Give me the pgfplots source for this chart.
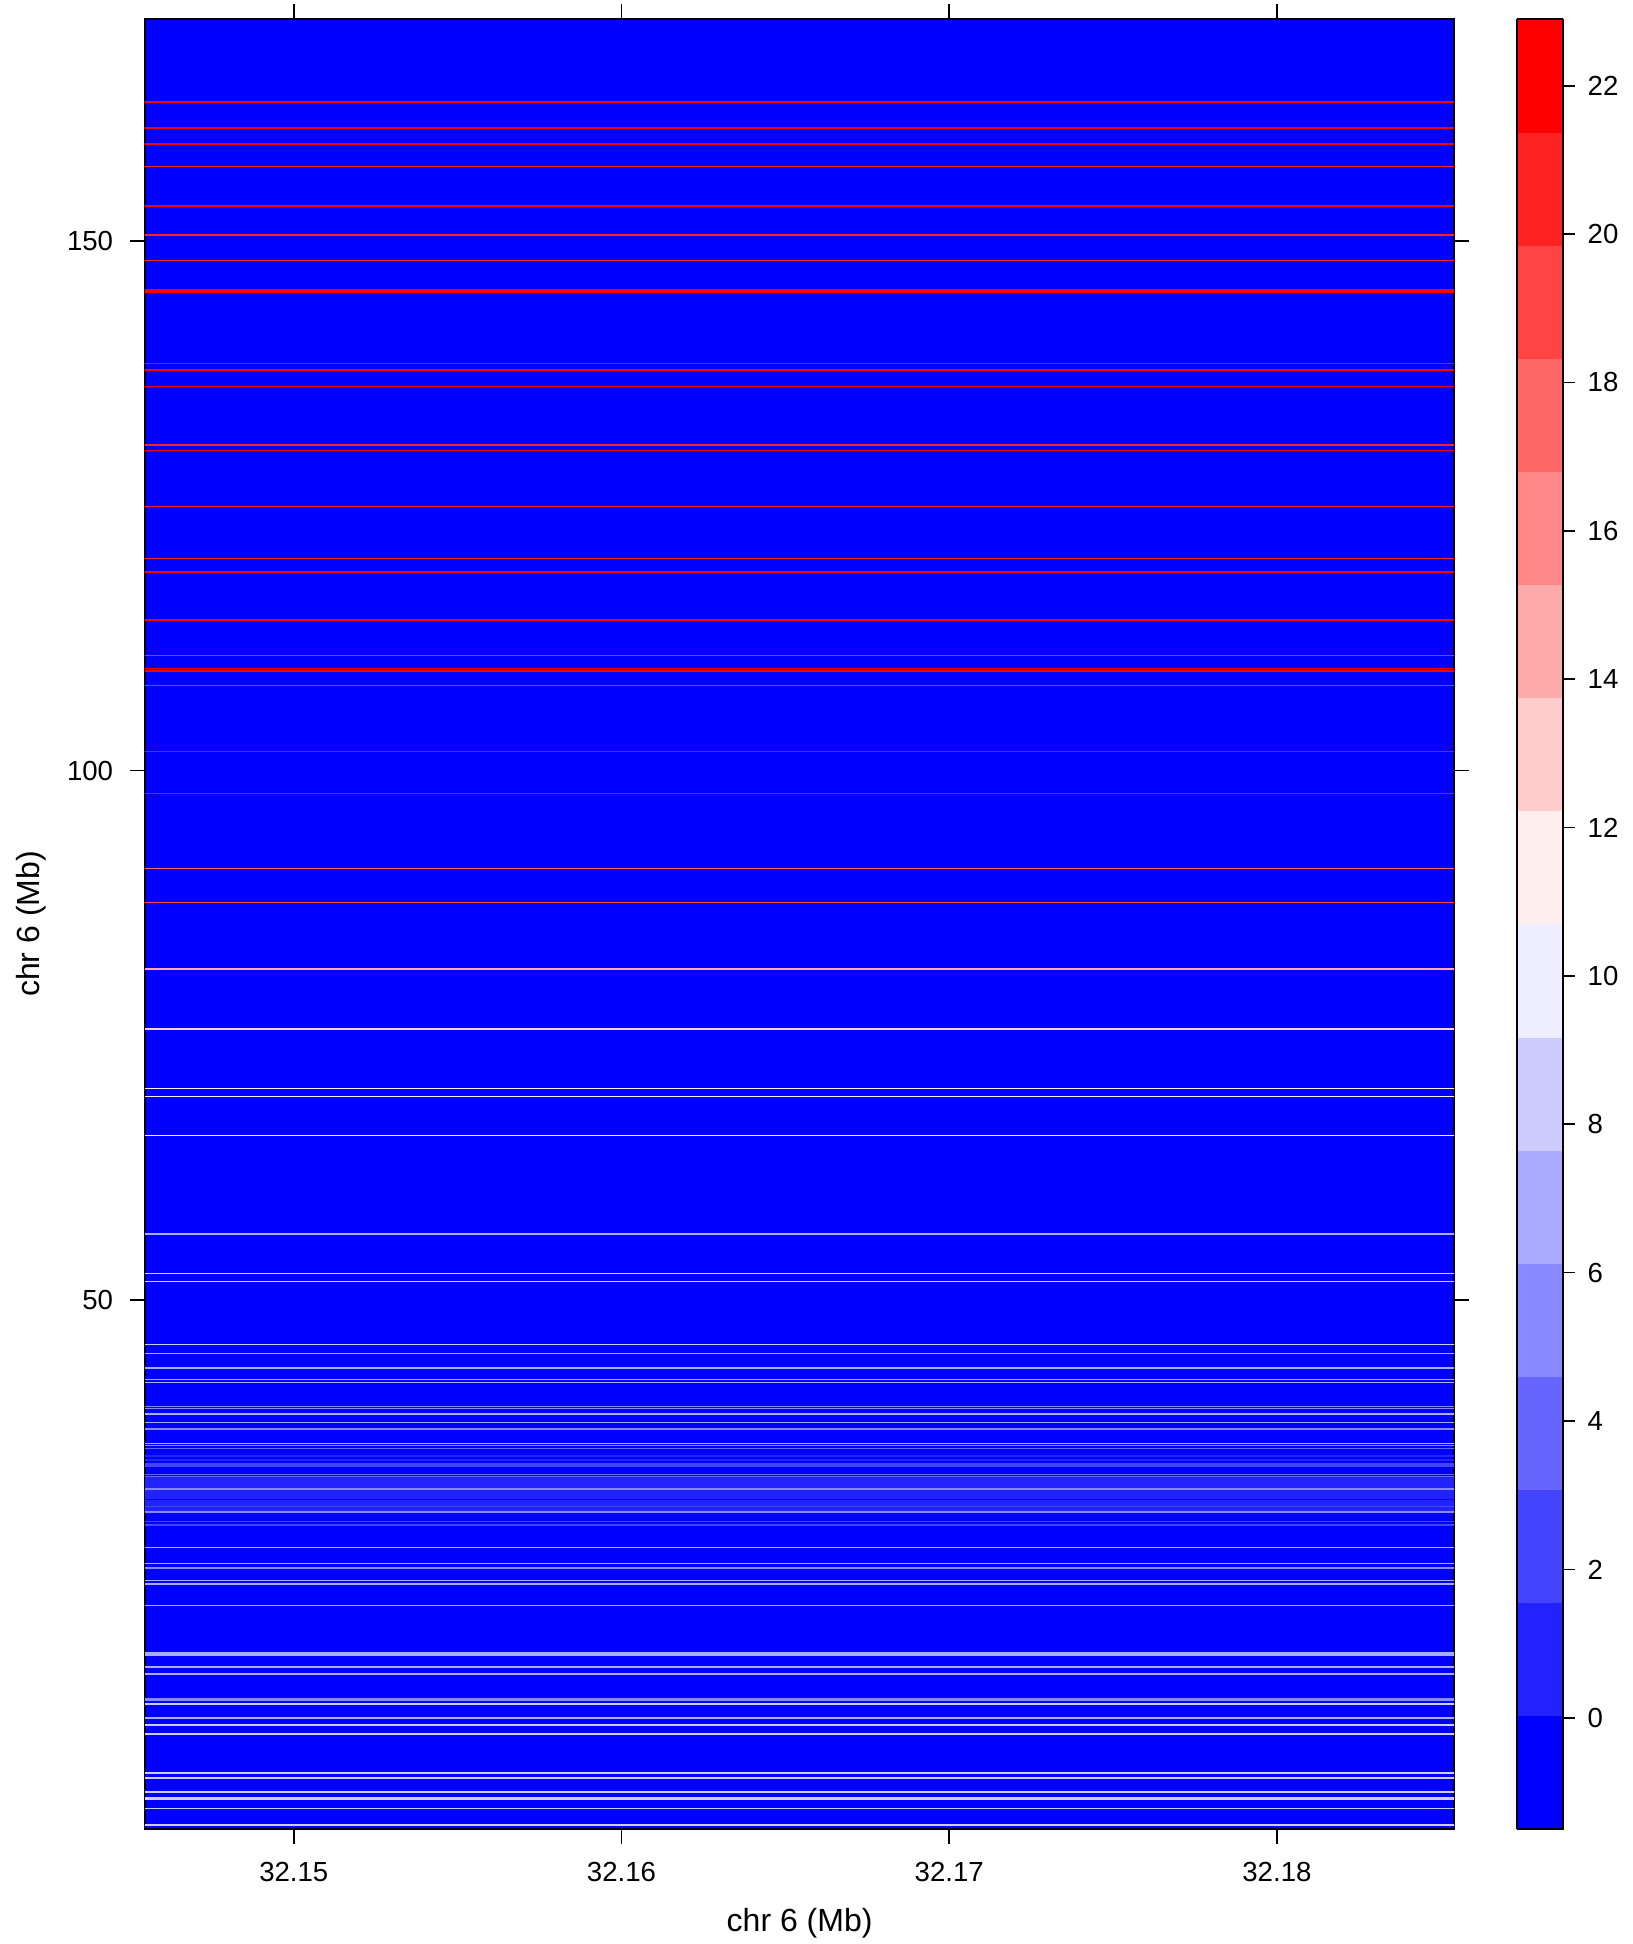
\documentclass[border=0pt]{standalone}
\usepackage{fontspec}
\setmainfont{Liberation Sans}
\usepackage{pgfplots}
\usepackage{pgfplotstable}
\pgfplotsset{compat=1.18}

% rows of the heat map: y position, value, line width (pt)
\pgfplotstableread{
y      c     w
31.65  0.8   8.35
35.26  0.8   0.45
34.86  0.8   0.6
34.41  2.3   0.9
36.21  5.4   0.35
35.95  3.8   0.4
33.48  3.8   0.35
33.33  3.8   0.35
32.12  5.4   0.35
31.14  -0.7  0.25
30.47  2.3   0.45
29.93  5.4   0.35
29.04  2.3   0.4
28.70  2.3   0.4
52.49  8.4   0.35
51.74  8.4   0.35
45.79  8.4   0.35
44.94  6.9   0.35
43.55  6.9   0.35
42.48  6.9   0.35
42.20  6.9   0.35
39.93  5.4   0.35
39.75  5.4   0.35
39.21  6.9   0.35
38.42  6.9   0.35
37.79  5.4   0.5
36.40  6.9   0.35
26.62  6.9   0.35
25.11  6.9   0.35
24.67  5.4   0.55
23.50  6.9   0.35
23.15  6.9   0.35
21.14  6.9   0.35
16.61  6.9   0.35
16.42  6.9   0.35
15.29  6.9   0.35
14.63  6.9   0.35
12.27  5.4   0.75
11.80  8.4   0.35
10.50  6.9   0.65
9.84   8.4   0.35
8.99   8.4   0.35
5.28   8.4   0.35
4.81   8.4   0.35
3.48   8.4   0.35
2.88   8.4   0.55
1.91   8.4   0.35
0.37   8.4   0.35
81.23  14.5  0.5
75.56  13.0  0.35
69.96  11.5  0.35
69.21  11.5  0.35
65.52  9.9   0.35
56.20  6.9   0.35
110.88 20.6  0.38
109.62 22.1  0.38
109.40 22.1  0.55
108.02 20.6  0.38
101.78 22.1  0.42
97.82  22.1  0.38
90.74  17.6  0.38
87.53  19.1  0.42
138.45 22.1  0.48
137.86 22.1  0.42
136.28 22.1  0.38
130.77 20.6  0.38
130.21 22.1  0.38
124.92 20.6  0.38
120.01 20.6  0.38
118.78 22.1  0.42
114.25 22.1  0.42
163.16 22.1  0.42
160.67 22.1  0.55
159.20 22.1  0.42
157.05 20.6  0.32
153.34 22.1  0.42
150.60 20.6  0.32
148.15 20.6  0.32
145.41 22.1  0.38
145.22 22.1  0.42
}\rows

\newcommand{\ticksize}{\fontsize{6.9}{8.2}\selectfont}
\newcommand{\labsize}{\fontsize{8}{9.6}\selectfont}

\begin{document}
\begin{tikzpicture}
\path[use as bounding box] (-36.25pt,-28.75pt) rectangle (371.75pt,457.25pt);
\begin{axis}[
    at={(0,0)}, anchor=south west,
    scale only axis, width=327.3pt, height=452.5pt,
    xmin=32.14546, xmax=32.18541, ymin=0, ymax=171,
    xtick={32.15,32.16,32.17,32.18},
    xticklabels={32.15,32.16,32.17,32.18},
    ytick={50,100,150}, yticklabels={50,100,150},
    tick align=outside, tick pos=both,
    major tick length=3.75pt,
    tick style={black, line width=0.4pt},
    axis line style={line width=0.45pt},
    xticklabel style={font=\ticksize, yshift=-0.9pt},
    yticklabel style={font=\ticksize, xshift=-0.7pt},
    xlabel={chr 6 (Mb)}, ylabel={chr 6 (Mb)},
    xlabel style={font=\labsize, at={(axis description cs:0.5,0)}, anchor=center, yshift=-23.5pt},
    ylabel style={font=\labsize, at={(axis description cs:0,0.5)}, anchor=center, yshift=28.5pt},
    axis background/.style={fill=blue},
    point meta min=-1.5, point meta max=22.9,
    colormap={bwr}{rgb255=(0,0,255) rgb255=(34,34,255) rgb255=(68,68,255)
      rgb255=(102,102,255) rgb255=(136,136,255) rgb255=(170,170,255)
      rgb255=(204,204,255) rgb255=(238,238,255) rgb255=(255,238,238)
      rgb255=(255,204,204) rgb255=(255,170,170) rgb255=(255,136,136)
      rgb255=(255,102,102) rgb255=(255,68,68) rgb255=(255,34,34)
      rgb255=(255,0,0)},
    colormap access=piecewise constant,
    colorbar,
    colorbar style={
        at={(parent axis.north east)}, anchor=north west, xshift=7.21pt,
        width=11.5pt,
        ytick={0,2,4,6,8,10,12,14,16,18,20,22},
        yticklabels={0,2,4,6,8,10,12,14,16,18,20,22},
        ytick pos=right, yticklabel pos=right,
        tick align=outside, major tick length=2.9pt,
        tick style={black, line width=0.4pt},
        yticklabel style={font=\ticksize, xshift=-0.3pt},
    },
]
\addplot[
    point meta=explicit,
    visualization depends on={\thisrow{w} \as \lw},
    quiver={u=0.05, v=0, colored,
        every arrow/.append style={line width=\lw pt}},
] table[x expr=32.14, y=y, meta=c] {\rows};
\end{axis}
\end{tikzpicture}
\end{document}
